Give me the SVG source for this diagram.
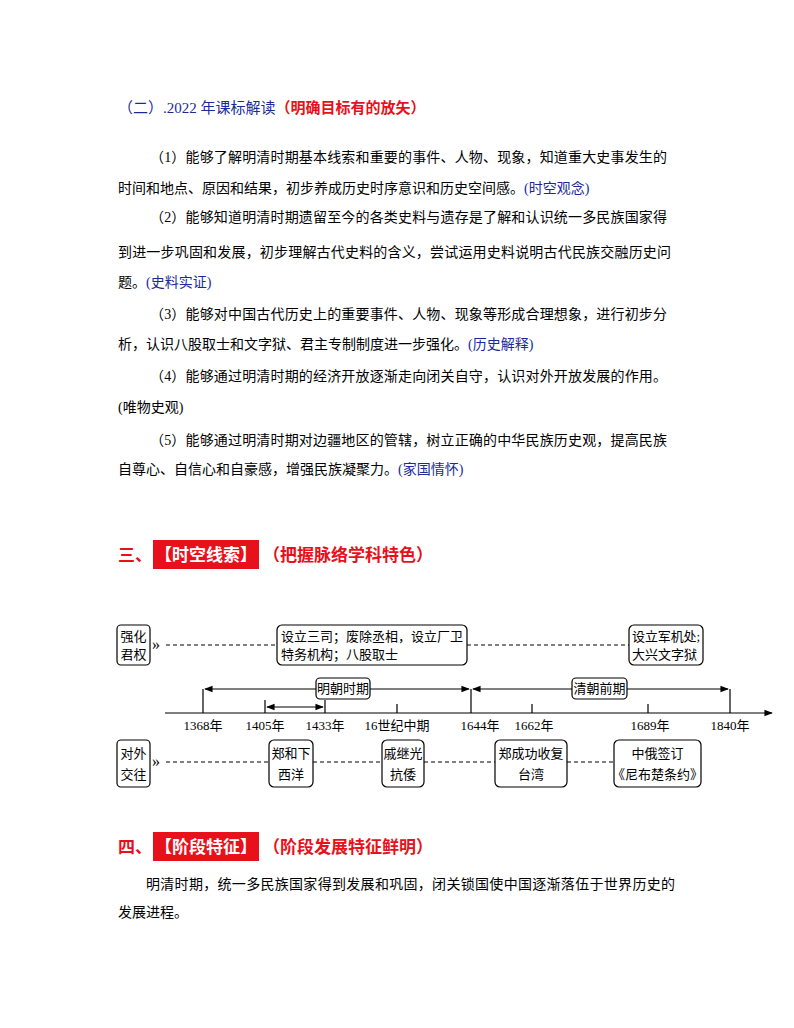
<svg xmlns="http://www.w3.org/2000/svg" width="794" height="1028" viewBox="0 0 794 1028">
<defs>
<style>
text{font-family:"Liberation Serif","Noto Sans CJK SC",serif;}
.b{font-size:14px;fill:#000;}
.bl{fill:#1a2a9a;}
.rd{fill:#e8101a;}
.hd{font-size:17px;font-weight:bold;}
.t{font-size:13px;fill:#000;}
.box{fill:#fff;stroke:#000;stroke-width:1.2;}
.ln{stroke:#000;stroke-width:1.2;fill:none;}
.ds{stroke:#000;stroke-width:1;stroke-dasharray:4 3;fill:none;}
</style>
<marker id="a" viewBox="0 0 10 10" refX="9" refY="5" markerWidth="7" markerHeight="7" orient="auto-start-reverse"><path d="M0,1L10,5L0,9z" fill="#000"/></marker>
</defs>
<rect width="794" height="1028" fill="#fff"/>
<g id="section2">
<text x="118" y="113" font-size="15"><tspan class="bl">（二）.2022 年课标解读</tspan><tspan class="rd" font-weight="bold">（明确目标有的放矢）</tspan></text>
<text class="b" x="150" y="162" textLength="517">（1）能够了解明清时期基本线索和重要的事件、人物、现象，知道重大史事发生的</text>
<text class="b" x="118" y="193">时间和地点、原因和结果，初步养成历史时序意识和历史空间感。<tspan class="bl">(时空观念)</tspan></text>
<text class="b" x="150" y="222" textLength="517">（2）能够知道明清时期遗留至今的各类史料与遗存是了解和认识统一多民族国家得</text>
<text class="b" x="118" y="257" textLength="553">到进一步巩固和发展，初步理解古代史料的含义，尝试运用史料说明古代民族交融历史问</text>
<text class="b" x="118" y="287">题。<tspan class="bl">(史料实证)</tspan></text>
<text class="b" x="150" y="319" textLength="517">（3）能够对中国古代历史上的重要事件、人物、现象等形成合理想象，进行初步分</text>
<text class="b" x="118" y="349">析，认识八股取士和文字狱、君主专制制度进一步强化。<tspan class="bl">(历史解释)</tspan></text>
<text class="b" x="150" y="381" textLength="517">（4）能够通过明清时期的经济开放逐渐走向闭关自守，认识对外开放发展的作用。</text>
<text class="b" x="118" y="412">(唯物史观)</text>
<text class="b" x="150" y="445" textLength="517">（5）能够通过明清时期对边疆地区的管辖，树立正确的中华民族历史观，提高民族</text>
<text class="b" x="118" y="474">自尊心、自信心和自豪感，增强民族凝聚力。<tspan class="bl">(家国情怀)</tspan></text>
</g>
<g id="section3">
<text class="hd rd" x="118" y="561">三、</text>
<rect x="153" y="540" width="106" height="29" fill="#e8101a"/>
<text class="hd" x="155" y="561" fill="#fff">【时空线索】</text>
<text class="hd rd" x="263" y="561">（把握脉络学科特色）</text>
</g>
<g id="connectors">
<path class="ds" d="M166,645H277M467,645H629"/>
<path class="ds" d="M166,762H269M313,762H382M424,762H495M567,762H614"/>
<text x="152" y="650" font-size="16">»</text>
<text x="152" y="767" font-size="16">»</text>
<path class="ln" d="M165,713H772" marker-end="url(#a)"/>
<path class="ln" d="M203,689V713M471,689V713M730,689V713M397,704V713M532,704V713M648,704V713M265,700V713M325,700V713"/>
<path class="ln" d="M205,689H469" marker-start="url(#a)" marker-end="url(#a)"/>
<path class="ln" d="M473,689H728" marker-start="url(#a)" marker-end="url(#a)"/>
<path class="ln" d="M267,707H323" marker-start="url(#a)" marker-end="url(#a)"/>
</g>
<g id="axis-labels">
<text class="t" x="203" y="730" text-anchor="middle">1368年</text>
<text class="t" x="265" y="730" text-anchor="middle">1405年</text>
<text class="t" x="325" y="730" text-anchor="middle">1433年</text>
<text class="t" x="397" y="730" text-anchor="middle">16世纪中期</text>
<text class="t" x="480" y="730" text-anchor="middle">1644年</text>
<text class="t" x="534" y="730" text-anchor="middle">1662年</text>
<text class="t" x="650" y="730" text-anchor="middle">1689年</text>
<text class="t" x="730" y="730" text-anchor="middle">1840年</text>
</g>
<g id="ming"><rect class="box" x="316" y="678" width="54" height="21" rx="4"/><text class="t" x="343" y="693" text-anchor="middle">明朝时期</text></g>
<g id="qing"><rect class="box" x="572" y="678" width="55" height="21" rx="4"/><text class="t" x="599.5" y="693" text-anchor="middle">清朝前期</text></g>
<g id="qhjq"><rect class="box" x="117" y="625" width="33" height="40" rx="4"/><text class="t" x="133.5" y="641" text-anchor="middle">强化</text><text class="t" x="133.5" y="659" text-anchor="middle">君权</text></g>
<g id="n1"><rect class="box" x="277" y="625" width="190" height="40" rx="5"/><text class="t" x="281" y="641" textLength="182">设立三司；废除丞相，设立厂卫</text><text class="t" x="281" y="659">特务机构；八股取士</text></g>
<g id="n2"><rect class="box" x="629" y="625" width="74" height="40" rx="5"/><text class="t" x="632" y="641" textLength="68">设立军机处;</text><text class="t" x="632" y="659">大兴文字狱</text></g>
<g id="dwjw"><rect class="box" x="117" y="740" width="33" height="47" rx="4"/><text class="t" x="133.5" y="758" text-anchor="middle">对外</text><text class="t" x="133.5" y="779" text-anchor="middle">交往</text></g>
<g id="n3"><rect class="box" x="269" y="740" width="44" height="47" rx="5"/><text class="t" x="291" y="758" text-anchor="middle">郑和下</text><text class="t" x="291" y="779" text-anchor="middle">西洋</text></g>
<g id="n4"><rect class="box" x="382" y="740" width="42" height="47" rx="5"/><text class="t" x="403" y="758" text-anchor="middle">戚继光</text><text class="t" x="403" y="779" text-anchor="middle">抗倭</text></g>
<g id="n5"><rect class="box" x="495" y="740" width="72" height="47" rx="5"/><text class="t" x="531" y="758" text-anchor="middle">郑成功收复</text><text class="t" x="531" y="779" text-anchor="middle">台湾</text></g>
<g id="n6"><rect class="box" x="614" y="740" width="87" height="47" rx="5"/><text class="t" x="657.5" y="758" text-anchor="middle">中俄签订</text><text class="t" x="657.5" y="779" text-anchor="middle">《尼布楚条约》</text></g>
<g id="section4">
<text class="hd rd" x="118" y="853">四、</text>
<rect x="153" y="832" width="106" height="29" fill="#e8101a"/>
<text class="hd" x="155" y="853" fill="#fff">【阶段特征】</text>
<text class="hd rd" x="263" y="853">（阶段发展特征鲜明）</text>
<text class="b" x="146" y="889" textLength="529">明清时期，统一多民族国家得到发展和巩固，闭关锁国使中国逐渐落伍于世界历史的</text>
<text class="b" x="118" y="917">发展进程。</text>
</g>
</svg>
